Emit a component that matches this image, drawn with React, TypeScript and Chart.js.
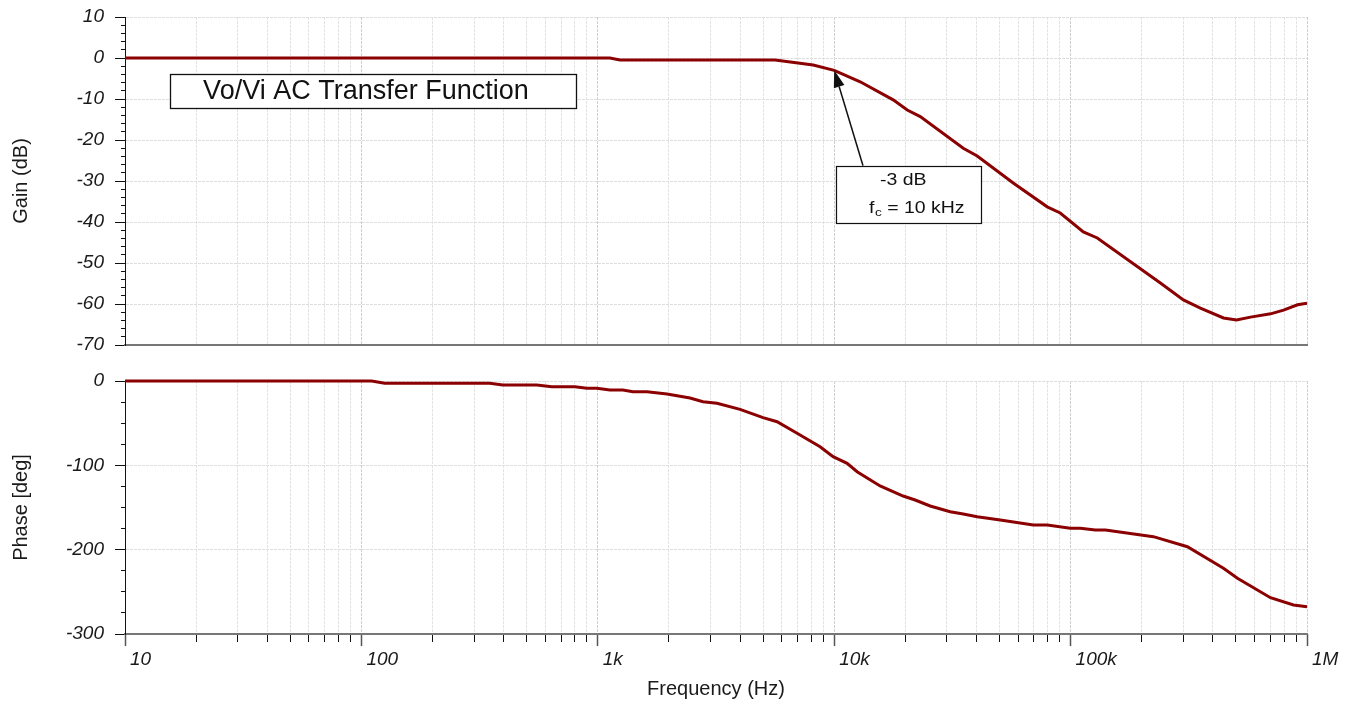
import React, { useEffect, useRef } from 'react';
import { Chart, registerables } from 'chart.js';

Chart.register(...registerables);

// ---------- data ----------
const FREQ_GAIN = [10, 1125, 1241, 5623, 8147, 10000, 12880, 17760, 20370, 23120, 35150, 40270, 57180, 79650, 90400, 113200, 129700, 239800, 300000, 354000, 443300, 503500, 576800, 701400, 795700, 912000, 1000000];
const GAIN_DB = [0, 0, -0.5, -0.5, -1.7, -3.0, -5.8, -10.2, -12.7, -14.3, -22.0, -23.9, -30.5, -36.3, -37.8, -42.4, -43.9, -54.9, -59.0, -61.0, -63.4, -63.9, -63.2, -62.4, -61.5, -60.2, -59.8];

const FREQ_PHASE = [10, 110.5, 125.5, 349, 396.5, 552, 639, 800, 899, 991, 1125, 1277, 1408, 1614, 1962, 2455, 2786, 3193, 3997, 5000, 5732, 6966, 8716, 9893, 11340, 12500, 15640, 19570, 22000, 25470, 30950, 35140, 40270, 50400, 69530, 79680, 99700, 109900, 127200, 140300, 224000, 311900, 443200, 507900, 700700, 876900, 1000000];
const PHASE_DEG = [0, 0, -2.7, -2.7, -4.7, -4.7, -6.8, -6.8, -8.7, -8.7, -10.7, -10.7, -12.7, -12.7, -15.4, -20.2, -24.5, -26.4, -33.6, -43.5, -48.3, -62.0, -77.9, -89.8, -97.6, -107.6, -124.5, -136.4, -141.1, -148.2, -155.0, -157.7, -160.9, -164.8, -170.8, -170.8, -174.7, -174.7, -176.7, -176.7, -184.6, -196.5, -222.1, -234.0, -257.0, -265.6, -267.6];

const DECADES = [10, 100, 1000, 10000, 100000, 1000000];
const DECADE_LABELS = ['10', '100', '1k', '10k', '100k', '1M'];
const MULTIPLES = [1, 2, 3, 4, 5, 6, 7, 8, 9];

const GAIN_MIN = -70;
const GAIN_MAX = 10;
const GAIN_STEP = 10;
const GAIN_MINOR_STEP = 2;
const PHASE_MIN = -300;
const PHASE_MAX = 0;
const PHASE_STEP = 100;
const PHASE_MINOR_STEP = 25;

// annotations (in data units: Hz, dB)
const TITLE_TEXT = 'Vo/Vi AC Transfer Function';
const TITLE_BOX = { f0: 15.5, f1: 808, top: -3.9, bottom: -12.2, textF: 21.4 };
const NOTE_LINE1 = '-3 dB';
const NOTE_LINE2_A = 'f';
const NOTE_LINE2_SUB = 'c';
const NOTE_LINE2_B = ' = 10 kHz';
const NOTE_BOX = { f0: 10177, f1: 41680, top: -26.3, bottom: -40.3, l1f: 15620, l1y: -30.98, l2f: 14040, l2y: -37.88 };
const ARROW = { fromF: 13240, fromDb: -26.3, toF: 10000, toDb: -3.0 };

// ---------- styles ----------
const FONT = '"Liberation Sans", Arial, Helvetica, sans-serif';
const LINE_COLOR = '#8b0000';
const TEXT_COLOR = '#1a1a1a';
const GRID_DASH = [3, 1];
const TRANSPARENT = 'rgba(0,0,0,0)';

function minorFreqTicks() {
  const out: number[] = [];
  DECADES.forEach((d, i) => {
    if (i === DECADES.length - 1) {
      out.push(d);
    } else {
      MULTIPLES.forEach((m) => out.push(d * m));
    }
  });
  return out;
}

function zeroPadding(s: any) {
  s.paddingTop = 0;
  s.paddingBottom = 0;
  s.paddingLeft = 0;
  s.paddingRight = 0;
}

function xGridScale(drawTicks: boolean) {
  return {
    type: 'logarithmic',
    position: 'bottom',
    min: DECADES[0],
    max: DECADES[DECADES.length - 1],
    weight: 0,
    afterBuildTicks: (s: any) => {
      s.ticks = minorFreqTicks().map((v) => ({ value: v }));
    },
    afterFit: (s: any) => {
      s.height = 0;
      zeroPadding(s);
    },
    ticks: { display: false, autoSkip: false, maxRotation: 0, minRotation: 0 },
    grid: {
      color: (c: any) => {
        const v = c.tick ? c.tick.value : null;
        if (v === DECADES[0]) return TRANSPARENT;
        return DECADES.includes(v) ? '#cfcfcf' : '#e4e4e4';
      },
      lineWidth: 1,
      drawTicks,
      tickLength: 8,
      tickColor: '#111',
      tickWidth: 1,
    },
    border: { display: true, color: '#777777', width: 2, dash: GRID_DASH },
  };
}

function yScales(min: number, max: number, step: number, minorStep: number, title: string) {
  return {
    y: {
      type: 'linear',
      position: 'left',
      min,
      max,
      weight: 1,
      afterFit: (s: any) => {
        s.width = 125;
        zeroPadding(s);
      },
      ticks: {
        stepSize: step,
        font: { family: FONT, size: 19, style: 'italic' },
        color: TEXT_COLOR,
        padding: 11,
        callback: (v: any) => String(v),
      },
      grid: {
        color: (c: any) => (c.tick && c.tick.value === min ? TRANSPARENT : '#dedede'),
        lineWidth: 1,
        tickLength: 10,
        tickColor: '#111',
        tickWidth: 1,
      },
      border: { display: true, color: '#111', width: 1, dash: GRID_DASH },
      title: {
        display: true,
        text: title,
        font: { family: FONT, size: 20 },
        color: TEXT_COLOR,
        padding: { top: 9, bottom: 0 },
      },
    },
    yMinor: {
      type: 'linear',
      position: 'left',
      min,
      max,
      weight: 0,
      afterFit: (s: any) => {
        s.width = 0;
        zeroPadding(s);
      },
      ticks: { display: false, stepSize: minorStep },
      grid: { drawOnChartArea: false, drawTicks: true, tickLength: 4, tickColor: '#111', tickWidth: 1 },
      border: { display: false },
    },
  };
}

function drawStretchedText(ctx: CanvasRenderingContext2D, text: string, x: number, y: number, sx: number) {
  ctx.save();
  ctx.translate(x, y);
  ctx.scale(sx, 1);
  ctx.fillText(text, 0, 0);
  ctx.restore();
  return ctx.measureText(text).width * sx;
}

const notesPlugin = {
  id: 'bodeNotes',
  afterDatasetsDraw(chart: any) {
    const { ctx, scales } = chart;
    const x = scales.x;
    const y = scales.y;
    const px = (f: number) => x.getPixelForValue(f);
    const py = (v: number) => y.getPixelForValue(v);
    ctx.save();

    // title box
    const tx0 = px(TITLE_BOX.f0);
    const tx1 = px(TITLE_BOX.f1);
    const ty0 = py(TITLE_BOX.top);
    const ty1 = py(TITLE_BOX.bottom);
    ctx.fillStyle = '#ffffff';
    ctx.fillRect(tx0, ty0, tx1 - tx0, ty1 - ty0);
    ctx.strokeStyle = '#111';
    ctx.lineWidth = 1.3;
    ctx.strokeRect(Math.round(tx0) + 0.5, Math.round(ty0) + 0.5, Math.round(tx1 - tx0), Math.round(ty1 - ty0));
    ctx.fillStyle = '#111';
    ctx.font = `27px ${FONT}`;
    ctx.textBaseline = 'middle';
    ctx.textAlign = 'left';
    ctx.fillText(TITLE_TEXT, px(TITLE_BOX.textF), (ty0 + ty1) / 2 + 1);

    // arrow
    const ax0 = px(ARROW.fromF);
    const ay0 = py(ARROW.fromDb);
    const ax1 = px(ARROW.toF);
    const ay1 = py(ARROW.toDb);
    const ang = Math.atan2(ay1 - ay0, ax1 - ax0);
    const headLen = 17;
    const headHalf = 5.5;
    const bx = ax1 - headLen * Math.cos(ang);
    const by = ay1 - headLen * Math.sin(ang);
    ctx.strokeStyle = '#111';
    ctx.lineWidth = 1.5;
    ctx.beginPath();
    ctx.moveTo(ax0, ay0);
    ctx.lineTo(bx, by);
    ctx.stroke();
    ctx.fillStyle = '#111';
    ctx.beginPath();
    ctx.moveTo(ax1, ay1);
    ctx.lineTo(bx + headHalf * Math.sin(ang), by - headHalf * Math.cos(ang));
    ctx.lineTo(bx - headHalf * Math.sin(ang), by + headHalf * Math.cos(ang));
    ctx.closePath();
    ctx.fill();

    // note box
    const nx0 = px(NOTE_BOX.f0);
    const nx1 = px(NOTE_BOX.f1);
    const ny0 = py(NOTE_BOX.top);
    const ny1 = py(NOTE_BOX.bottom);
    ctx.fillStyle = '#ffffff';
    ctx.fillRect(nx0, ny0, nx1 - nx0, ny1 - ny0);
    ctx.strokeStyle = '#111';
    ctx.lineWidth = 1.2;
    ctx.strokeRect(Math.round(nx0) + 0.5, Math.round(ny0) + 0.5, Math.round(nx1 - nx0), Math.round(ny1 - ny0));

    ctx.fillStyle = '#111';
    ctx.textBaseline = 'alphabetic';
    ctx.textAlign = 'left';
    const sx = 1.18;
    ctx.font = `16.5px ${FONT}`;
    drawStretchedText(ctx, NOTE_LINE1, px(NOTE_BOX.l1f), py(NOTE_BOX.l1y), sx);
    let cx = px(NOTE_BOX.l2f);
    const ly = py(NOTE_BOX.l2y);
    cx += drawStretchedText(ctx, NOTE_LINE2_A, cx, ly, sx);
    ctx.font = `11.5px ${FONT}`;
    cx += drawStretchedText(ctx, NOTE_LINE2_SUB, cx + 0.5, ly + 3, sx) + 0.5;
    ctx.font = `16.5px ${FONT}`;
    drawStretchedText(ctx, NOTE_LINE2_B, cx, ly, sx);

    ctx.restore();
  },
};

function seriesPoints(xs: number[], ys: number[]) {
  return xs.map((f, i) => ({ x: f, y: ys[i] }));
}

export default function App() {
  const gainRef = useRef<HTMLCanvasElement | null>(null);
  const phaseRef = useRef<HTMLCanvasElement | null>(null);

  useEffect(() => {
    Chart.defaults.font.family = FONT;
    const common = {
      responsive: false,
      maintainAspectRatio: false,
      animation: false,
      events: [],
    };

    const gainChart = new Chart(gainRef.current as HTMLCanvasElement, {
      type: 'line',
      data: {
        datasets: [
          {
            data: seriesPoints(FREQ_GAIN, GAIN_DB),
            borderColor: LINE_COLOR,
            backgroundColor: LINE_COLOR,
            borderWidth: 3,
            pointRadius: 0,
            tension: 0,
            fill: false,
            clip: false,
          },
        ],
      },
      options: {
        ...common,
        layout: { padding: { left: 0, right: 48, top: 17, bottom: 15 } },
        plugins: { legend: { display: false }, tooltip: { enabled: false } },
        scales: {
          x: xGridScale(false),
          ...yScales(GAIN_MIN, GAIN_MAX, GAIN_STEP, GAIN_MINOR_STEP, 'Gain (dB)'),
        },
      } as any,
      plugins: [notesPlugin],
    } as any);

    const phaseChart = new Chart(phaseRef.current as HTMLCanvasElement, {
      type: 'line',
      data: {
        datasets: [
          {
            data: seriesPoints(FREQ_PHASE, PHASE_DEG),
            borderColor: LINE_COLOR,
            backgroundColor: LINE_COLOR,
            borderWidth: 3,
            pointRadius: 0,
            tension: 0,
            fill: false,
            clip: false,
          },
        ],
      },
      options: {
        ...common,
        layout: { padding: { left: 0, right: 48, top: 21, bottom: 0 } },
        plugins: { legend: { display: false }, tooltip: { enabled: false } },
        scales: {
          x: xGridScale(true),
          xMajor: {
            type: 'logarithmic',
            position: 'bottom',
            min: DECADES[0],
            max: DECADES[DECADES.length - 1],
            weight: 1,
            afterBuildTicks: (s: any) => {
              s.ticks = DECADES.map((v) => ({ value: v }));
            },
            afterFit: (s: any) => {
              s.height = 71;
              zeroPadding(s);
            },
            ticks: {
              autoSkip: false,
              maxRotation: 0,
              minRotation: 0,
              align: 'start',
              labelOffset: 5,
              padding: 2,
              font: { family: FONT, size: 19, style: 'italic' },
              color: TEXT_COLOR,
              callback: (_v: any, i: number) => DECADE_LABELS[i],
            },
            grid: { drawOnChartArea: false, drawTicks: true, tickLength: 12, tickColor: '#555', tickWidth: 1.5 },
            border: { display: false },
            title: {
              display: true,
              text: 'Frequency (Hz)',
              font: { family: FONT, size: 20 },
              color: TEXT_COLOR,
              padding: { top: 0, bottom: 4 },
            },
          },
          ...yScales(PHASE_MIN, PHASE_MAX, PHASE_STEP, PHASE_MINOR_STEP, 'Phase [deg]'),
        },
      } as any,
    } as any);

    return () => {
      gainChart.destroy();
      phaseChart.destroy();
    };
  }, []);

  return (
    <div style={{ position: 'absolute', left: 0, top: 0, width: 1355, height: 705, background: '#ffffff' }}>
      <canvas ref={gainRef} width={1355} height={360} style={{ position: 'absolute', left: 0, top: 0, width: 1355, height: 360 }} />
      <canvas ref={phaseRef} width={1355} height={345} style={{ position: 'absolute', left: 0, top: 360, width: 1355, height: 345 }} />
    </div>
  );
}
